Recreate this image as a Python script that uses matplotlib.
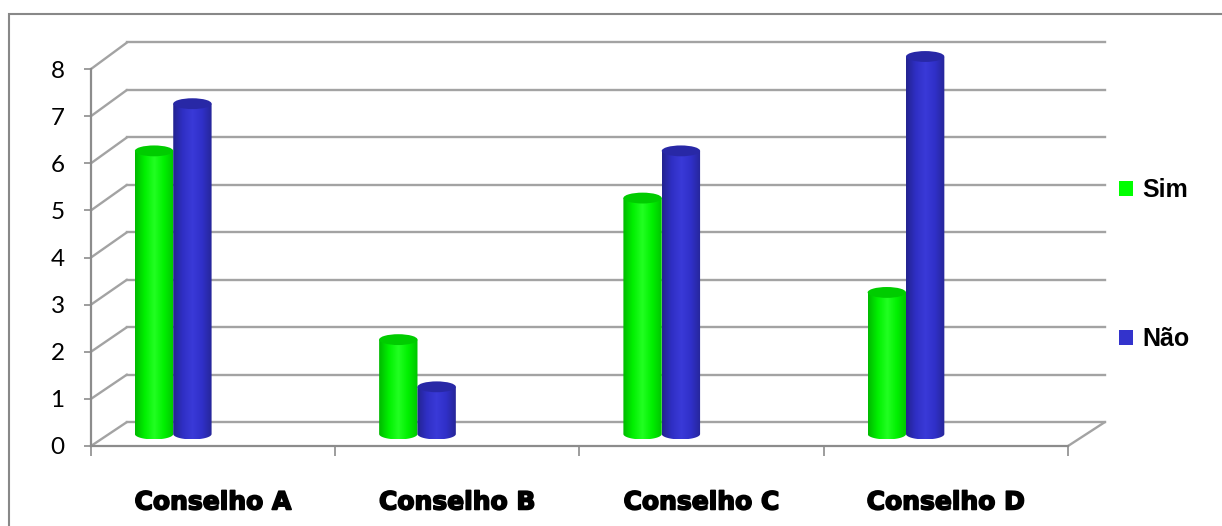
import matplotlib
matplotlib.use("Agg")
import matplotlib.pyplot as plt
import numpy as np
from matplotlib.patches import Ellipse, Polygon, Rectangle, Patch, ConnectionPatch
from matplotlib.colors import LinearSegmentedColormap
import matplotlib.patheffects as pe

# ---- data -------------------------------------------------------------
categories = ["Conselho A", "Conselho B", "Conselho C", "Conselho D"]
series_names = ["Sim", "Não"]
sim = [6, 2, 5, 3]
nao = [7, 1, 6, 8]
y_ticks = [0, 1, 2, 3, 4, 5, 6, 7, 8]

# ---- styling ----------------------------------------------------------
W, H = 1222, 526
GRID = "#a3a3a3"
AXIS = "#8c8c8c"
GREEN_BODY = ["#00b800", "#00f000", "#22ff22", "#00f000", "#00c400"]
GREEN_TOP = "#00cc00"
BLUE_BODY = ["#23238f", "#2f2fc4", "#3a3ad8", "#3030c8", "#262698"]
BLUE_TOP = "#2828a6"
BAR_W = 0.157          # cylinder width in category units
GROUP_SHIFT = -0.237   # clusters sit toward the front-left of each slot
CAP_H = 0.23           # ellipse height of the cylinder ends, in value units
FLOOR_PAD = 0.5        # room below zero in the bar plane for the base ellipses

fig = plt.figure(figsize=(W / 100, H / 100), dpi=100)


def box(x0, y_top, x1, y_bot):
    return [x0 / W, 1 - y_bot / H, (x1 - x0) / W, (y_bot - y_top) / H]


# back wall, bar plane and front axis plane of the pseudo-3D box
bar_top, bar_zero = 56.5, 434.0
bar_bottom = bar_zero + FLOOR_PAD * (bar_zero - bar_top) / y_ticks[-1]
ax_back = fig.add_axes(box(127, 42.5, 1105, 422), zorder=0)
ax_bars = fig.add_axes(box(109, bar_top, 1086, bar_bottom), zorder=1)
ax_front = fig.add_axes(box(91, 69, 1068, 446), zorder=2)

n = len(categories)
for ax in (ax_back, ax_bars, ax_front):
    ax.set_xlim(-0.5, n - 0.5)
    ax.set_ylim(y_ticks[0], y_ticks[-1])
    ax.patch.set_visible(False)
ax_back.axis("off")
ax_bars.axis("off")

# back wall gridlines and the depth lines of the left wall / floor
for v in y_ticks:
    ax_back.axhline(v, color=GRID, lw=1.7, clip_on=False)
    con = ConnectionPatch(xyA=(-0.5, v), coordsA=ax_front.transData,
                          xyB=(-0.5, v), coordsB=ax_back.transData,
                          color=GRID, lw=1.7)
    ax_back.add_artist(con)
con = ConnectionPatch(xyA=(n - 0.5, 0), coordsA=ax_front.transData,
                      xyB=(n - 0.5, 0), coordsB=ax_back.transData,
                      color=GRID, lw=1.7)
ax_back.add_artist(con)


def cylinder(ax, xc, value, body_colors, top_color):
    x0 = xc - BAR_W / 2
    t = np.linspace(np.pi, 2 * np.pi, 60)
    bx = xc + BAR_W / 2 * np.cos(t)
    by = CAP_H / 2 * np.sin(t)
    outline = np.column_stack([np.r_[bx, x0 + BAR_W, x0],
                               np.r_[by, value, value]])
    clip = Polygon(outline, closed=True, transform=ax.transData,
                   facecolor="none", edgecolor="none")
    ax.add_patch(clip)
    cmap = LinearSegmentedColormap.from_list("shade", body_colors)
    img = ax.imshow(np.linspace(0, 1, 256)[None, :], cmap=cmap, aspect="auto",
                    extent=(x0, x0 + BAR_W, -CAP_H / 2, value),
                    interpolation="bilinear", zorder=2)
    img.set_clip_path(clip)
    ax.add_patch(Ellipse((xc, value), BAR_W, CAP_H, facecolor=top_color,
                         edgecolor="none", zorder=3, clip_on=False))


for i in range(n):
    xc = i + GROUP_SHIFT
    cylinder(ax_bars, xc - BAR_W / 2, sim[i], GREEN_BODY, GREEN_TOP)
    cylinder(ax_bars, xc + BAR_W / 2, nao[i], BLUE_BODY, BLUE_TOP)
ax_bars.set_xlim(-0.5, n - 0.5)
ax_bars.set_ylim(y_ticks[0] - FLOOR_PAD, y_ticks[-1])

# front axes: value axis and category axis
for side in ("top", "right"):
    ax_front.spines[side].set_visible(False)
for side in ("left", "bottom"):
    ax_front.spines[side].set_color(AXIS)
    ax_front.spines[side].set_linewidth(1.6)
ax_front.set_yticks(y_ticks)
ax_front.set_yticklabels([str(v) for v in y_ticks], family="Lato", fontsize=17.5)
ax_front.tick_params(axis="y", direction="out", length=5, width=1.2,
                     color=AXIS, pad=14)
ax_front.set_xticks(range(n))
ax_front.set_xticklabels(categories, family="DejaVu Sans", weight="bold",
                         fontsize=18)
for lbl in ax_front.get_xticklabels():
    lbl.set_path_effects([pe.withStroke(linewidth=1.2, foreground="black")])
ax_front.tick_params(axis="x", which="major", length=0, pad=32)
ax_front.set_xticks(np.arange(-0.5, n, 1.0), minor=True)
ax_front.tick_params(axis="x", which="minor", direction="out", length=7,
                     width=1.2, color=AXIS)

# legend
handles = [Patch(facecolor="#00ff00", edgecolor="none"),
           Patch(facecolor="#3333cc", edgecolor="none")]
fig.legend(handles, series_names, loc="center left",
           bbox_to_anchor=(1119 / W, 1 - 264.5 / H), frameon=False,
           prop=dict(family="Liberation Sans", weight="bold", size=18),
           handlelength=0.55, handleheight=0.55, handletextpad=0.4,
           labelspacing=5.0, borderpad=0, borderaxespad=0)

# chart area border (runs past the right and bottom edges)
fig.add_artist(Rectangle((9 / W, -0.1), 2, 1 - 14 / H + 0.1,
                         transform=fig.transFigure, fill=False,
                         edgecolor="#888888", lw=1.5))

fig.savefig("out.png", dpi=100)
